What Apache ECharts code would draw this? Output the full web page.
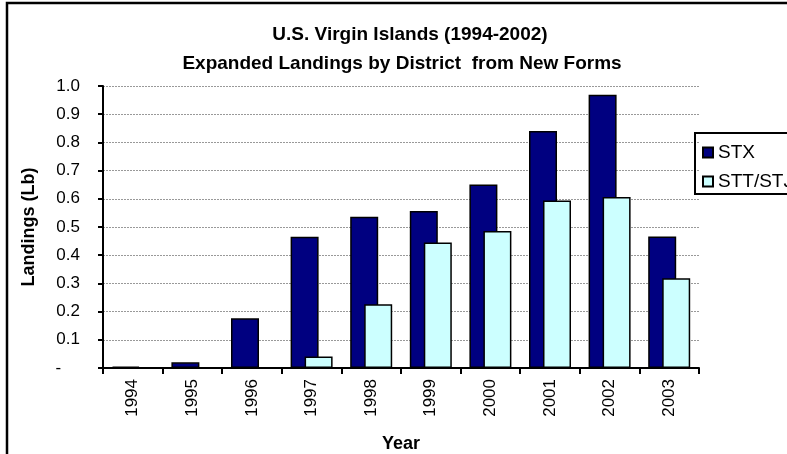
<!DOCTYPE html>
<html>
<head>
<meta charset="utf-8">
<script src="https://cdn.jsdelivr.net/npm/echarts@6/dist/echarts.min.js"></script>
<style>
  html, body { margin: 0; padding: 0; background: #fff; }
  #chart { width: 787px; height: 454px; }
</style>
</head>
<body>
<div id="chart"></div>
<script>
var years = ['1994', '1995', '1996', '1997', '1998', '1999', '2000', '2001', '2002', '2003'];
var stx = [0.005, 0.02, 0.176, 0.465, 0.536, 0.557, 0.651, 0.840, 0.969, 0.466];
var sttStj = [0, 0, 0, 0.041, 0.226, 0.445, 0.486, 0.594, 0.606, 0.318];
var yTickLabels = ['-', '0.1', '0.2', '0.3', '0.4', '0.5', '0.6', '0.7', '0.8', '0.9', '1.0'];

var font = 'Liberation Sans, Arial, sans-serif';
var myChart = echarts.init(document.getElementById('chart'));

var option = {
  animation: false,
  backgroundColor: '#fff',
  textStyle: { fontFamily: font, color: '#000' },
  title: [
    {
      text: 'U.S. Virgin Islands (1994-2002)',
      left: 405, top: 20, textAlign: 'center',
      textStyle: { fontSize: 19, fontWeight: 'bold', color: '#000', fontFamily: font }
    },
    {
      text: 'Expanded Landings by District  from New Forms',
      left: 397, top: 49, textAlign: 'center',
      textStyle: { fontSize: 19, fontWeight: 'bold', color: '#000', fontFamily: font }
    }
  ],
  graphic: [
    {
      type: 'rect',
      shape: { x: 7, y: 3, width: 900, height: 600 },
      style: { fill: 'none', stroke: '#000', lineWidth: 2.5 },
      silent: true
    }
  ],
  legend: {
    orient: 'vertical',
    left: 695, top: 133,
    padding: [10, 40, 3, 7],
    itemGap: 10,
    itemWidth: 10, itemHeight: 10,
    icon: 'rect',
    borderColor: '#000', borderWidth: 2,
    textStyle: { fontSize: 19, color: '#000', fontFamily: font },
    data: ['STX', 'STT/STJ']
  },
  grid: { left: 103, right: 88, top: 86, bottom: 86, outerBoundsMode: 'none', containLabel: false },
  xAxis: {
    type: 'category',
    data: years,
    name: 'Year',
    nameLocation: 'middle',
    nameGap: 67,
    nameTextStyle: { fontSize: 18, fontWeight: 'bold', color: '#000', fontFamily: font },
    axisLine: { lineStyle: { color: '#000', width: 2 } },
    axisTick: { show: true, length: 6, lineStyle: { color: '#000', width: 2 } },
    axisLabel: { rotate: 90, margin: 11, fontSize: 17, color: '#000', fontFamily: font }
  },
  yAxis: {
    type: 'value',
    min: 0, max: 1, interval: 0.1,
    name: 'Landings (Lb)',
    nameLocation: 'middle',
    nameGap: 65,
    nameTextStyle: { fontSize: 18, fontWeight: 'bold', color: '#000', fontFamily: font },
    axisLine: { show: true, lineStyle: { color: '#000', width: 2 } },
    axisTick: { show: true, length: 5, lineStyle: { color: '#000', width: 2 } },
    axisLabel: {
      margin: 23, fontSize: 17, color: '#000', fontFamily: font,
      formatter: function (v) {
        var s = yTickLabels[Math.round(v * 10)];
        return s === '-' ? '-    ' : s;
      }
    },
    splitLine: { show: true, lineStyle: { color: '#999', width: 1, type: [2, 1] } }
  },
  series: [
    {
      name: 'STX',
      type: 'bar',
      data: stx,
      barWidth: 28,
      barGap: '-50%',
      itemStyle: { color: '#000080', borderColor: '#000', borderWidth: 1.5 }
    },
    {
      name: 'STT/STJ',
      type: 'bar',
      data: sttStj,
      barWidth: 28,
      barGap: '-50%',
      itemStyle: { color: '#CCFFFF', borderColor: '#000', borderWidth: 1.5 }
    }
  ]
};

option && myChart.setOption(option);
</script>
</body>
</html>
